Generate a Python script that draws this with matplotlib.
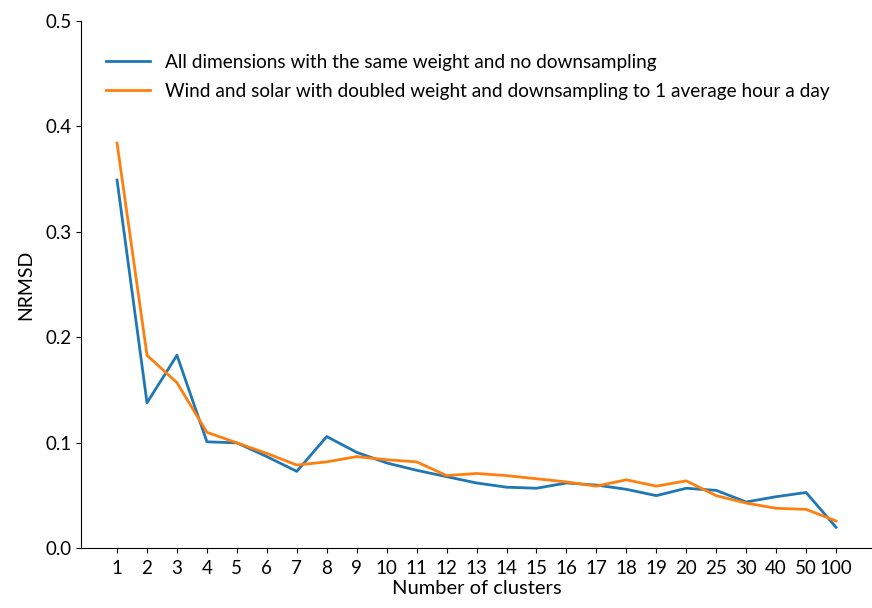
import matplotlib
matplotlib.use('Agg')
from matplotlib import pyplot as plt
import numpy as np

clusters = ['1', '2', '3', '4', '5', '6', '7', '8', '9', '10', '11', '12', '13',
            '14', '15', '16', '17', '18', '19', '20', '25', '30', '40', '50', '100']
same_weight = [0.349, 0.138, 0.183, 0.101, 0.100, 0.087, 0.073, 0.106, 0.091,
               0.081, 0.074, 0.068, 0.062, 0.058, 0.057, 0.062, 0.060, 0.056,
               0.050, 0.057, 0.055, 0.044, 0.049, 0.053, 0.020]
doubled_weight = [0.384, 0.183, 0.157, 0.110, 0.100, 0.090, 0.079, 0.082, 0.087,
                  0.084, 0.082, 0.069, 0.071, 0.069, 0.066, 0.063, 0.059, 0.065,
                  0.059, 0.064, 0.050, 0.043, 0.038, 0.037, 0.026]
labels = ['All dimensions with the same weight and no downsampling',
          'Wind and solar with doubled weight and downsampling to 1 average hour a day']

plt.rcParams['font.family'] = ['Lato', 'DejaVu Sans']

fig = plt.figure(figsize=(8.72, 6.08), dpi=100)
ax = fig.add_axes([0.093, 0.098, 0.907, 0.868])
x = np.arange(len(clusters))
ax.plot(x, same_weight, color='#1f77b4', lw=2, label=labels[0])
ax.plot(x, doubled_weight, color='#ff7f0e', lw=2, label=labels[1])
ax.set_xticks(x)
ax.set_xticklabels(clusters, fontsize=13.5)
ax.set_ylim(0, 0.5)
ax.set_yticks([0.0, 0.1, 0.2, 0.3, 0.4, 0.5])
ax.tick_params(axis='y', labelsize=13.5)
ax.tick_params(axis='x', pad=5)
ax.set_xlabel('Number of clusters', fontsize=14.5, labelpad=2)
ax.set_ylabel('NRMSD', fontsize=14, labelpad=8)
ax.spines['right'].set_visible(False)
ax.spines['top'].set_visible(False)
ax.legend(loc='upper left', frameon=False, fontsize=13.7, bbox_to_anchor=(0.01, 0.97),
          handlelength=2.3, handletextpad=0.8, labelspacing=0.65)
plt.savefig('out.png')
